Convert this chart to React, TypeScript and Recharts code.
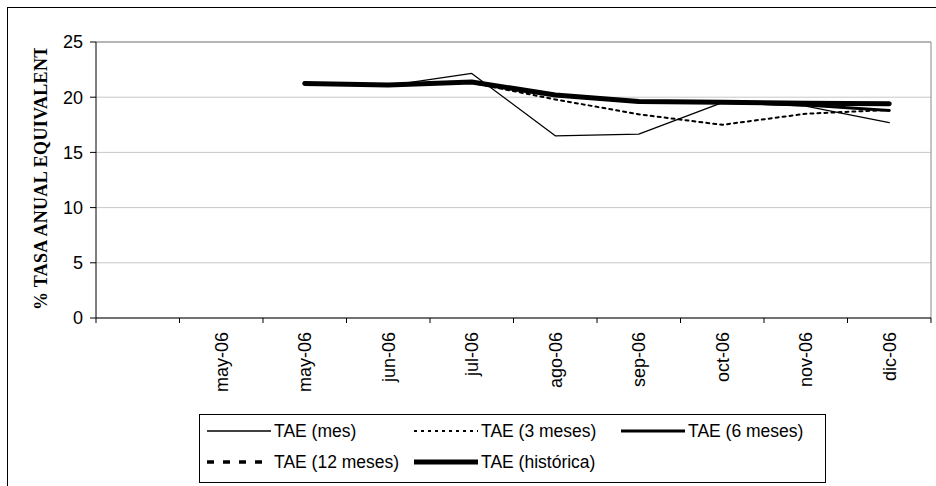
import React from "react";
import { LineChart, Line, XAxis, YAxis, CartesianGrid, ReferenceLine, Legend, Label } from "recharts";

const categories = ["", "may-06", "may-06", "jun-06", "jul-06", "ago-06", "sep-06", "oct-06", "nov-06", "dic-06"];
const taeMes = [null, null, 21.25, 21.05, 22.15, 16.5, 16.65, 19.5, 19.2, 17.7];
const tae3 = [null, null, null, null, 21.3, 19.8, 18.45, 17.5, 18.5, 18.85];
const tae6 = [null, null, null, null, null, null, null, 19.55, 19.3, 18.8];
const tae12 = [null, null, null, null, null, null, null, null, null, null];
const taeHist = [null, null, 21.25, 21.1, 21.38, 20.2, 19.6, 19.55, 19.45, 19.4];
const yTicks = [0, 5, 10, 15, 20, 25];
const yTitle = "% TASA ANUAL EQUIVALENTE";

const series = [
  { key: "mes", name: "TAE (mes)", values: taeMes, width: 1.3, dash: undefined },
  { key: "m3", name: "TAE (3 meses)", values: tae3, width: 2, dash: "3 4" },
  { key: "m6", name: "TAE (6 meses)", values: tae6, width: 3, dash: undefined },
  { key: "m12", name: "TAE (12 meses)", values: tae12, width: 3.5, dash: "7 9" },
  { key: "hist", name: "TAE (histórica)", values: taeHist, width: 5, dash: undefined },
];

const data = categories.map((c, i) => {
  const row: any = { x: i + 0.5, label: c };
  series.forEach((s) => {
    row[s.key] = s.values[i];
  });
  return row;
});

const xTicks: number[] = [];
for (let i = 0; i <= categories.length; i++) {
  xTicks.push(i);
  if (i < categories.length) xTicks.push(i + 0.5);
}

const FONT = "'Liberation Sans', Arial, sans-serif";

const XTick = (props: any) => {
  const { x, y, payload } = props;
  const v = payload.value;
  if (Number.isInteger(v)) {
    return <line x1={x} y1={y} x2={x} y2={y + 5} stroke="#000" strokeWidth={1} />;
  }
  const label = categories[Math.floor(v)];
  const ty = y + 14;
  return (
    <text
      x={x}
      y={ty}
      transform={`rotate(-90, ${x}, ${ty})`}
      textAnchor="end"
      dy="0.35em"
      fontSize={18}
      fontFamily={FONT}
      fill="#000"
    >
      {label}
    </text>
  );
};

const YTitle = (props: any) => {
  const vb = props.viewBox || { x: 36, y: 42, width: 60, height: 276 };
  const bx = vb.x + 11;
  const by = vb.y + vb.height - 8;
  const clipTop = vb.y + 6;
  return (
    <g>
      <defs>
        <clipPath id="ytitle-clip" clipPathUnits="userSpaceOnUse">
          <rect x={0} y={clipTop} width={vb.x + vb.width} height={by - clipTop + 20} />
        </clipPath>
      </defs>
      <g clipPath="url(#ytitle-clip)">
        <text
          x={bx}
          y={by}
          transform={`rotate(-90, ${bx}, ${by})`}
          textAnchor="start"
          fontSize={18}
          fontWeight="bold"
          letterSpacing={0.3}
          fontFamily="'Liberation Serif', 'Times New Roman', serif"
          fill="#000"
        >
          {yTitle}
        </text>
      </g>
    </g>
  );
};

const LegendBox = () => {
  return (
    <div
      style={{
        position: "relative",
        width: 627,
        height: 69,
        border: "1px solid #000",
        boxSizing: "border-box",
        background: "#fff",
        fontFamily: FONT,
        fontSize: 17.5,
        color: "#000",
      }}
    >
      {series.map((s, i) => {
        const col = i % 3;
        const row = Math.floor(i / 3);
        return (
          <div
            key={s.key}
            style={{
              position: "absolute",
              left: 6 + col * 207,
              top: row === 0 ? 5 : 36,
              height: 22,
              display: "flex",
              alignItems: "center",
              whiteSpace: "nowrap",
            }}
          >
            <svg width={66} height={12} style={{ display: "block" }}>
              <line
                x1={1}
                y1={6}
                x2={65}
                y2={6}
                stroke="#000"
                strokeWidth={s.width}
                strokeDasharray={s.dash}
              />
            </svg>
            <span style={{ marginLeft: 2, lineHeight: "22px" }}>{s.name}</span>
          </div>
        );
      })}
    </div>
  );
};

export default function App() {
  return (
    <div style={{ position: "fixed", left: 0, top: 0, width: 936, height: 486, overflow: "hidden", background: "#fff" }}>
      <div
        style={{
          position: "absolute",
          left: 7,
          top: 7,
          width: 1000,
          height: 1000,
          borderLeft: "1px solid #000",
          borderTop: "1px solid #000",
        }}
      />
      <div style={{ position: "absolute", left: 0, top: 0 }}>
        <LineChart width={936} height={486} data={data} margin={{ top: 42, right: 5, left: 36, bottom: 88 }}>
          <CartesianGrid vertical={false} stroke="#c8c8c8" />
          <ReferenceLine y={25} stroke="#888" />
          <ReferenceLine x={categories.length} stroke="#888" />
          <XAxis
            type="number"
            dataKey="x"
            domain={[0, categories.length]}
            ticks={xTicks}
            interval={0}
            height={80}
            tickSize={0}
            tickMargin={0}
            tickLine={false}
            axisLine={{ stroke: "#000" }}
            tick={<XTick />}
            allowDataOverflow
          />
          <YAxis
            type="number"
            domain={[0, 25]}
            ticks={yTicks}
            interval={0}
            width={60}
            tickSize={6}
            tickMargin={7}
            axisLine={{ stroke: "#000" }}
            tickLine={{ stroke: "#000" }}
            tick={{ fill: "#000", fontSize: 18, fontFamily: FONT }}
            label={<Label content={<YTitle />} />}
          />
          {series.map((s) => (
            <Line
              key={s.key}
              type="linear"
              dataKey={s.key}
              name={s.name}
              stroke="#000"
              strokeWidth={s.width}
              strokeDasharray={s.dash}
              strokeLinecap="round"
              strokeLinejoin="round"
              dot={false}
              activeDot={false}
              isAnimationActive={false}
            />
          ))}
          <Legend
            layout="horizontal"
            verticalAlign="middle"
            align="center"
            content={<LegendBox />}
            wrapperStyle={{ position: "absolute", left: 199, top: 414, width: 627, height: 69 }}
          />
        </LineChart>
      </div>
    </div>
  );
}
